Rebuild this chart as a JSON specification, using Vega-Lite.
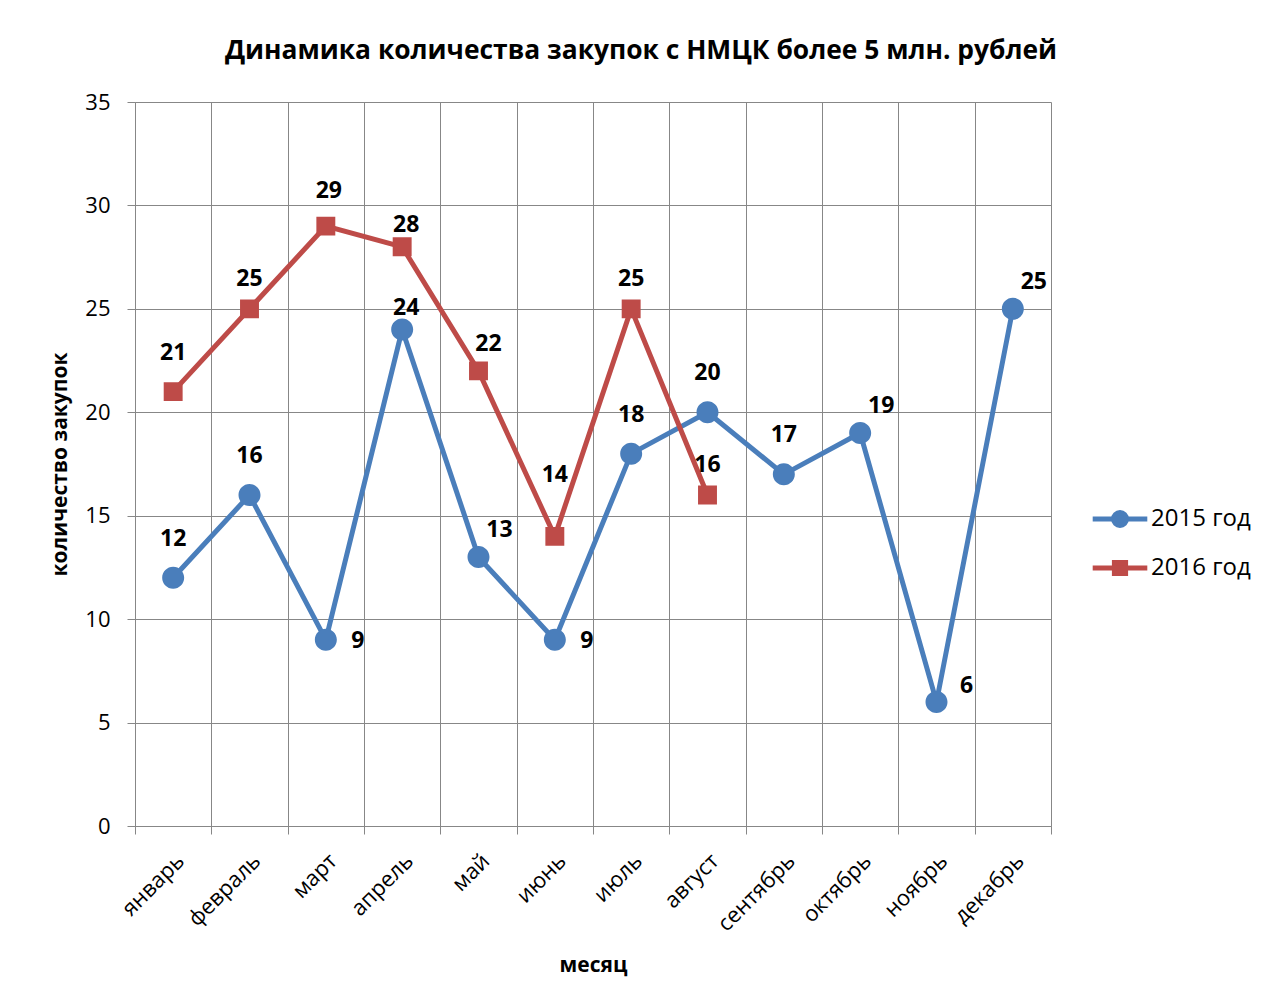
{
  "$schema": "https://vega.github.io/schema/vega-lite/v6.json",
  "width": 916,
  "height": 724,
  "autosize": {"type": "none"},
  "padding": {"left": 135, "top": 102, "right": 214, "bottom": 181},
  "background": "white",
  "config": {
    "font": "Open Sans",
    "view": {"stroke": null},
    "axis": {
      "gridColor": "#878787", "gridWidth": 1, "gridOpacity": 1,
      "domainColor": "#878787", "domainWidth": 1,
      "tickColor": "#878787", "tickWidth": 1, "tickSize": 8,
      "labelFont": "Open Sans", "labelFontSize": 22, "labelColor": "#000000",
      "titleFont": "Open Sans", "titleFontSize": 21, "titleFontWeight": "bold", "titleColor": "#000000"
    },
    "legend": {
      "orient": "none", "legendX": 973, "legendY": 405,
      "padding": 0, "symbolSize": 169, "symbolStrokeWidth": 5, "labelOffset": 19,
      "labelFont": "Open Sans", "labelFontSize": 24, "labelColor": "#000000", "rowPadding": 16,
      "symbolOpacity": 1
    }
  },
  "title": {
    "text": "Динамика количества закупок с НМЦК более 5 млн. рублей",
    "font": "Open Sans", "fontSize": 26.4, "fontWeight": "bold", "color": "#000000",
    "anchor": "middle", "dx": 48, "offset": 27
  },
  "data": {
    "values": [
      {"month": "январь", "series": "2015 год", "value": 12},
      {"month": "февраль", "series": "2015 год", "value": 16},
      {"month": "март", "series": "2015 год", "value": 9},
      {"month": "апрель", "series": "2015 год", "value": 24},
      {"month": "май", "series": "2015 год", "value": 13},
      {"month": "июнь", "series": "2015 год", "value": 9},
      {"month": "июль", "series": "2015 год", "value": 18},
      {"month": "август", "series": "2015 год", "value": 20},
      {"month": "сентябрь", "series": "2015 год", "value": 17},
      {"month": "октябрь", "series": "2015 год", "value": 19},
      {"month": "ноябрь", "series": "2015 год", "value": 6},
      {"month": "декабрь", "series": "2015 год", "value": 25},
      {"month": "январь", "series": "2016 год", "value": 21},
      {"month": "февраль", "series": "2016 год", "value": 25},
      {"month": "март", "series": "2016 год", "value": 29},
      {"month": "апрель", "series": "2016 год", "value": 28},
      {"month": "май", "series": "2016 год", "value": 22},
      {"month": "июнь", "series": "2016 год", "value": 14},
      {"month": "июль", "series": "2016 год", "value": 25},
      {"month": "август", "series": "2016 год", "value": 16}
    ]
  },
  "encoding": {
    "x": {
      "field": "month", "type": "nominal", "sort": null,
      "scale": {"type": "band", "paddingInner": 0, "paddingOuter": 0},
      "axis": {"title": "месяц", "labelAngle": -45, "tickBand": "extent", "grid": true, "labelPadding": 16, "labelDx": -8, "titlePadding": 20}
    },
    "y": {
      "field": "value", "type": "quantitative",
      "scale": {"domain": [0, 35], "nice": false},
      "axis": {"title": "количество закупок", "values": [0, 5, 10, 15, 20, 25, 30, 35], "grid": true, "labelPadding": 17, "titlePadding": 14}
    }
  },
  "layer": [
    {
      "mark": {"type": "line", "strokeWidth": 5},
      "encoding": {
        "color": {"field": "series", "type": "nominal", "title": null,
          "scale": {"domain": ["2015 год", "2016 год"], "range": ["#4A7EBB", "#BE4B48"]}}
      }
    },
    {
      "mark": {"type": "point", "filled": true, "opacity": 1, "size": 484},
      "encoding": {
        "color": {"field": "series", "type": "nominal", "title": null,
          "scale": {"domain": ["2015 год", "2016 год"], "range": ["#4A7EBB", "#BE4B48"]},
          "legend": {
            "title": null,
            "encode": {"symbols": {"update": {"stroke": {"scale": "color", "field": "value"}, "strokeWidth": {"value": 5}}}}
          }},
        "shape": {"field": "series", "type": "nominal", "title": null,
          "scale": {"domain": ["2015 год", "2016 год"], "range": [
            "M-4.2,0L4.2,0M1,0A1,1 0 1,1 -1,0A1,1 0 1,1 1,0Z",
            "M-4.2,0L4.2,0M-0.86,-0.86L0.86,-0.86L0.86,0.86L-0.86,0.86Z"]}}
      }
    },
    {
      "transform": [{"filter": "(datum.series == '2015 год' && indexof(['январь','февраль','июль','август','сентябрь'], datum.month) >= 0) || (datum.series == '2016 год' && datum.month == 'январь')"}],
      "mark": {"type": "text", "fontSize": 23, "fontWeight": "bold", "color": "#000000", "baseline": "middle", "align": "center", "dy": -39},
      "encoding": {"text": {"field": "value", "type": "quantitative"}}
    },
    {
      "transform": [{"filter": "datum.series == '2016 год' && datum.month == 'март'"}],
      "mark": {"type": "text", "fontSize": 23, "fontWeight": "bold", "color": "#000000", "baseline": "middle", "align": "center", "dy": -35, "dx": 3},
      "encoding": {"text": {"field": "value", "type": "quantitative"}}
    },
    {
      "transform": [{"filter": "datum.series == '2016 год' && indexof(['февраль','июль','август'], datum.month) >= 0"}],
      "mark": {"type": "text", "fontSize": 23, "fontWeight": "bold", "color": "#000000", "baseline": "middle", "align": "center", "dy": -30, "dx": 0},
      "encoding": {"text": {"field": "value", "type": "quantitative"}}
    },
    {
      "transform": [{"filter": "(datum.series == '2016 год' && datum.month == 'апрель') || (datum.series == '2015 год' && datum.month == 'апрель')"}],
      "mark": {"type": "text", "fontSize": 23, "fontWeight": "bold", "color": "#000000", "baseline": "middle", "align": "center", "dy": -22, "dx": 4},
      "encoding": {"text": {"field": "value", "type": "quantitative"}}
    },
    {
      "transform": [{"filter": "datum.series == '2016 год' && datum.month == 'май'"}],
      "mark": {"type": "text", "fontSize": 23, "fontWeight": "bold", "color": "#000000", "baseline": "middle", "align": "center", "dy": -27, "dx": 10},
      "encoding": {"text": {"field": "value", "type": "quantitative"}}
    },
    {
      "transform": [{"filter": "datum.series == '2015 год' && indexof(['май','октябрь','декабрь'], datum.month) >= 0"}],
      "mark": {"type": "text", "fontSize": 23, "fontWeight": "bold", "color": "#000000", "baseline": "middle", "align": "center", "dy": -27, "dx": 21},
      "encoding": {"text": {"field": "value", "type": "quantitative"}}
    },
    {
      "transform": [{"filter": "datum.series == '2015 год' && indexof(['март','июнь'], datum.month) >= 0"}],
      "mark": {"type": "text", "fontSize": 23, "fontWeight": "bold", "color": "#000000", "baseline": "middle", "align": "center", "dy": 1, "dx": 32},
      "encoding": {"text": {"field": "value", "type": "quantitative"}}
    },
    {
      "transform": [{"filter": "datum.series == '2015 год' && datum.month == 'ноябрь'"}],
      "mark": {"type": "text", "fontSize": 23, "fontWeight": "bold", "color": "#000000", "baseline": "middle", "align": "center", "dy": -16, "dx": 30},
      "encoding": {"text": {"field": "value", "type": "quantitative"}}
    },
    {
      "transform": [{"filter": "datum.series == '2016 год' && datum.month == 'июнь'"}],
      "mark": {"type": "text", "fontSize": 23, "fontWeight": "bold", "color": "#000000", "baseline": "middle", "align": "center", "dy": -61, "dx": 0},
      "encoding": {"text": {"field": "value", "type": "quantitative"}}
    }
  ]
}
